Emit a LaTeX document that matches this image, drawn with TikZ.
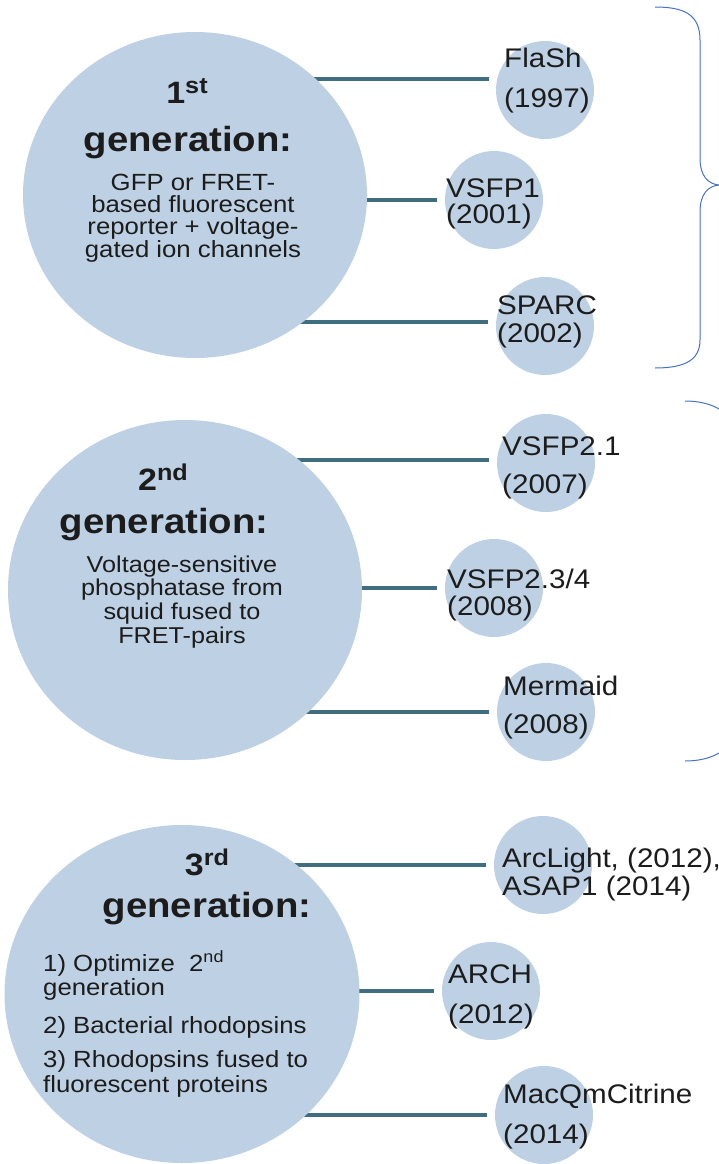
\documentclass[tikz,border=0pt]{standalone}
\usepackage{xcolor}
\usepackage{fontspec}
\setmainfont{Liberation Sans}[FakeStretch=1.1]
\usepackage{tikz}
\usetikzlibrary{shapes.geometric}
\usetikzlibrary{backgrounds}
\definecolor{genblue}{RGB}{190,209,228}
\definecolor{linkteal}{RGB}{64,110,128}
\definecolor{bracecol}{RGB}{68,114,196}
\definecolor{ink}{RGB}{28,28,28}
\tikzset{link/.style = {line width=4bp, linkteal, shorten >=8bp}}
\newcommand{\gensup}[1]{\raisebox{10bp}{\fontsize{23}{23}\selectfont #1}}

\begin{document}
\begin{tikzpicture}[x=1bp, y=-1bp,
    gen node/.style={ellipse, fill=genblue, inner sep=0pt},
    sensor node/.style={circle, fill=genblue, minimum size=98bp, inner sep=0pt},
    ord/.style={font=\bfseries\fontsize{31}{32}\selectfont, text=ink, anchor=base, inner sep=0pt},
    head/.style={font=\bfseries\fontsize{35}{36}\selectfont, text=ink, anchor=base, inner sep=0pt},
    body/.style={text=ink, anchor=base, inner sep=0pt, align=center},
    lbl/.style={font=\fontsize{27}{28}\selectfont, text=ink, anchor=base west, inner sep=0pt},
    brace line/.style={bracecol, line width=1bp}]
    \useasboundingbox (0,0) rectangle (719,1164);

    % the three generations
    \node[gen node, minimum width=344bp, minimum height=326bp] (gen1) at (195,195) {};
    \node[gen node, minimum width=354bp, minimum height=340bp] (gen2) at (185,590) {};
    \node[gen node, minimum width=355bp, minimum height=338bp] (gen3) at (182,994) {};

    % text blocks sit on the baseline of their last line
    \node[ord] (gen1ord) at (187,103) {1\gensup{st}};
    \node[head] (gen1head) at (188,151) {generation:};
    \node[body, font=\fontsize{23.5}{22.3}\selectfont] (gen1txt) at (193,257)
        {GFP or FRET-\\based fluorescent\\reporter + voltage-\\gated ion channels};

    \node[ord] (gen2ord) at (163,490) {2\gensup{nd}};
    \node[head] (gen2head) at (164,533) {generation:};
    \node[body, font=\fontsize{23}{23.7}\selectfont] (gen2txt) at (182,643)
        {Voltage-sensitive\\phosphatase from\\squid fused to\\FRET-pairs};

    \node[ord] (gen3ord) at (207,875) {3\gensup{rd}};
    \node[head] (gen3head) at (207,917) {generation:};
    \node[body, align=left, anchor=base west, font=\fontsize{23.5}{24.5}\selectfont] (gen3txt) at (43,1092)
        {1) Optimize\ \ 2\textsuperscript{nd}\\generation\\[13pt]2) Bacterial rhodopsins\\[10pt]3) Rhodopsins fused to\\fluorescent proteins};

    % indicators
    \node[sensor node] (flash) at (545,90) {};
    \node[sensor node] (vsfp1) at (494,200) {};
    \node[sensor node] (sparc) at (545,326) {};
    \node[sensor node] (vsfp21) at (546,463) {};
    \node[sensor node] (vsfp234) at (494,588) {};
    \node[sensor node] (mermaid) at (546,712) {};
    \node[sensor node] (arclight) at (543,865) {};
    \node[sensor node] (arch) at (491,991) {};
    \node[sensor node] (macq) at (544,1115) {};

    \node[lbl] (flashA) at (504,67) {FlaSh};
    \node[lbl] (flashB) at (504,107) {(1997)};
    \node[lbl] (vsfp1A) at (446,197) {VSFP1};
    \node[lbl] (vsfp1B) at (446,223) {(2001)};
    \node[lbl] (sparcA) at (497,314) {SPARC};
    \node[lbl] (sparcB) at (497,342) {(2002)};
    \node[lbl] (vsfp21A) at (502,455) {VSFP2.1};
    \node[lbl] (vsfp21B) at (502,493) {(2007)};
    \node[lbl] (vsfp234A) at (447,588) {VSFP2.3/4};
    \node[lbl] (vsfp234B) at (447,615) {(2008)};
    \node[lbl] (mermaidA) at (503,695) {Mermaid};
    \node[lbl] (mermaidB) at (503,733) {(2008)};
    \node[lbl] (arclightA) at (502,867) {ArcLight, (2012),};
    \node[lbl] (arclightB) at (502,895) {ASAP1 (2014)};
    \node[lbl] (archA) at (448,983) {ARCH};
    \node[lbl] (archB) at (448,1023) {(2012)};
    \node[lbl] (macqA) at (503,1103) {MacQmCitrine};
    \node[lbl] (macqB) at (503,1143) {(2014)};

    \begin{pgfonlayer}{background}
        \draw[link] (gen1.center |- flash.167) -- (flash.167);
        \draw[link] (gen1.center |- vsfp1.west) -- (vsfp1.west);
        \draw[link] (gen1.center |- sparc.175) -- (sparc.175);
        \draw[link] (gen2.center |- vsfp21.176) -- (vsfp21.176);
        \draw[link] (gen2.center |- vsfp234.west) -- (vsfp234.west);
        \draw[link] (gen2.center |- mermaid.west) -- (mermaid.west);
        \draw[link] (gen3.center |- arclight.west) -- (arclight.west);
        \draw[link] (gen3.center |- arch.west) -- (arch.west);
        \draw[link] (gen3.center |- macq.west) -- (macq.west);
    \end{pgfonlayer}

    % braces
    \clip (0,0) rectangle (719,1164);
    \draw[brace line] (655,7) .. controls (685,7) and (700,15) .. (700,40) -- (700,158)
        .. controls (700,176) and (708,184) .. (719,185)
        .. controls (708,186) and (700,194) .. (700,212) -- (700,340)
        .. controls (700,360) and (685,368) .. (655,368);
    \draw[brace line] (685,401) .. controls (712,401) and (735,412) .. (740,440) -- (740,560)
        .. controls (740,575) and (750,581) .. (760,581)
        .. controls (750,581) and (740,587) .. (740,602) -- (740,722)
        .. controls (735,750) and (712,761) .. (685,761);
\end{tikzpicture}
\end{document}
